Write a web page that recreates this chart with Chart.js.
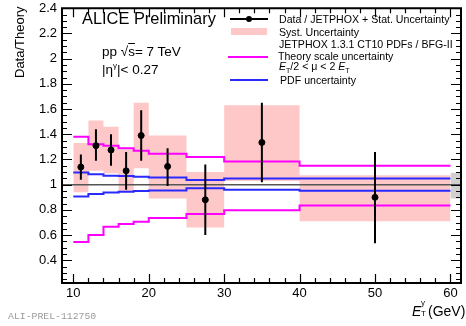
<!DOCTYPE html>
<html lang="en">
<head>
<meta charset="UTF-8">
<title>ALICE Preliminary - Data/Theory</title>
<script src="https://cdn.jsdelivr.net/npm/chart.js"></script>
<style>
  body { margin: 0; background: #fff; }
  #wrap { position: relative; width: 466px; height: 326px; font-family: "Liberation Sans", Arial, sans-serif; color: #000; }
  #wrap canvas { position: absolute; left: 0; top: 0; }
  .txt { position: absolute; white-space: nowrap; line-height: 1; }
  .leg { font-size: 10.6px; }
  .sym { position: absolute; }
  .idx { position: absolute; font-size: 8px; line-height: 1; }
</style>
</head>
<body>
<div id="wrap">
  <canvas id="chart" width="466" height="326"></canvas>

  <!-- annotations -->
  <div class="txt" style="left:82px; top:10px; font-size:16.4px;">ALICE Preliminary</div>
  <div class="txt" style="left:102px; top:45px; font-size:13.5px;">pp &radic;<span style="text-decoration:overline">s</span>= 7 TeV</div>
  <div class="txt" style="left:102px; top:62px; font-size:13.5px;">|&eta;<sup style="font-size:8px; vertical-align:6px;">&gamma;</sup>|&lt; 0.27</div>

  <!-- axis titles -->
  <div class="txt" style="left:19px; top:5px; font-size:13px; transform-origin:0 0; transform:translate(-6px, 73px) rotate(-90deg);">Data/Theory</div>
  <div class="txt" style="left:412px; top:304px; font-size:14px;"><i>E</i></div>
  <div class="idx" style="left:421px; top:299px;">&gamma;</div>
  <div class="idx" style="left:421px; top:310px;">T</div>
  <div class="txt" style="left:428px; top:304px; font-size:14px;">(GeV)</div>
  <div class="txt" style="left:8px; top:312px; font-size:9.8px; font-family:'Liberation Mono', monospace; color:#9a9a9a;">ALI-PREL-112750</div>

  <!-- legend -->
  <div class="sym" style="left:230px; top:18px; width:38px; height:2px; background:#000;"></div>
  <div class="sym" style="left:246px; top:16px; width:6px; height:6px; border-radius:3px; background:#000;"></div>
  <div class="txt leg" style="left:279px; top:14px;">Data / JETPHOX + Stat. Uncertainty</div>

  <div class="sym" style="left:231px; top:28px; width:36px; height:7px; background:#ffc8c8;"></div>
  <div class="txt leg" style="left:279px; top:27px;">Syst. Uncertainty</div>

  <div class="txt leg" style="left:279px; top:39px;">JETPHOX 1.3.1 CT10 PDFs / BFG-II</div>

  <div class="sym" style="left:228px; top:56px; width:40px; height:2px; background:#ff00ff;"></div>
  <div class="txt leg" style="left:278px; top:51px;">Theory scale uncertainty</div>
  <div class="txt leg" style="left:279px; top:61px;"><i>E</i><sub style="font-size:7px;">T</sub>/2 &lt; &mu; &lt; 2 <i>E</i><sub style="font-size:7px;">T</sub></div>

  <div class="sym" style="left:230px; top:79px; width:38px; height:2px; background:#2a2aff;"></div>
  <div class="txt leg" style="left:280px; top:75px;">PDF uncertainty</div>
</div>

<script>
  // E_T bins (GeV) and bin centres
  const binEdges = [10, 12, 14, 16, 18, 20, 25, 30, 40, 60];
  const binCenters = [11, 13, 15, 17, 19, 22.5, 27.5, 35, 50];

  // data / JETPHOX with stat. and syst. bands
  const ratio  = [1.14, 1.31, 1.275, 1.11, 1.39, 1.145, 0.88, 1.335, 0.90];
  const statHi = [1.24, 1.44, 1.40, 1.26, 1.59, 1.29, 1.16, 1.65, 1.26];
  const statLo = [1.04, 1.19, 1.15, 0.96, 1.19, 0.99, 0.60, 1.02, 0.535];
  const systHi = [1.33, 1.51, 1.46, 1.28, 1.65, 1.39, 1.10, 1.63, 1.075];
  const systLo = [0.94, 1.11, 1.09, 0.945, 1.13, 0.89, 0.66, 1.03, 0.71];

  // theory uncertainties (per bin)
  const scaleUp   = [1.38, 1.32, 1.31, 1.29, 1.27, 1.245, 1.22, 1.185, 1.15];
  const scaleDown = [0.545, 0.60, 0.667, 0.688, 0.705, 0.735, 0.768, 0.798, 0.835];
  const pdfUp     = [1.096, 1.082, 1.07, 1.068, 1.063, 1.058, 1.037, 1.05, 1.05];
  const pdfDown   = [0.907, 0.927, 0.938, 0.945, 0.95, 0.953, 0.971, 0.96, 0.951];

  // normalisation box at the right edge
  const normRange = [60, 61.4];
  const normHi = 1.095;
  const normLo = 0.89;

  const xMin = 8.5, xMax = 61.4;
  const xTicks = [10, 20, 30, 40, 50, 60];
  const yTicks = [0.4, 0.6, 0.8, 1, 1.2, 1.4, 1.6, 1.8, 2, 2.2, 2.4];
  const yTickLabels = ['0.4', '0.6', '0.8', '1', '1.2', '1.4', '1.6', '1.8', '2', '2.2', '2.4'];

  // step-line points: value i holds from edge i to edge i+1
  function steps(vals) {
    return binEdges.map((x, i) => ({ x: x, y: vals[Math.min(i, vals.length - 1)] }));
  }

  const errBars = [];
  binCenters.forEach((x, i) => {
    errBars.push({ x: x, y: statLo[i] }, { x: x, y: statHi[i] }, { x: x, y: null });
  });

  const stepLine = (data, color, order) => ({
    data: data, borderColor: color, borderWidth: 2, pointRadius: 0,
    stepped: true, fill: false, order: order
  });

  // ROOT style frame with inward ticks on all sides
  const rootFrame = {
    id: 'rootFrame',
    afterDatasetsDraw(chart) {
      const { ctx, chartArea: a, scales: { x, y } } = chart;
      ctx.save();
      ctx.strokeStyle = '#000';
      ctx.lineWidth = 1.2;
      ctx.beginPath();
      for (let v = 10; v <= 60; v += 2) {
        const px = Math.round(x.getPixelForValue(v)) + 0.5;
        const len = v % 10 === 0 ? 9 : 5;
        ctx.moveTo(px, a.bottom); ctx.lineTo(px, a.bottom - len);
        ctx.moveTo(px, a.top); ctx.lineTo(px, a.top + len);
      }
      for (let k = 5; k <= 48; k++) {
        const py = Math.round(y.getPixelForValue(k * 0.05)) + 0.5;
        const len = k % 4 === 0 ? 10 : 5;
        ctx.moveTo(a.left, py); ctx.lineTo(a.left + len, py);
        ctx.moveTo(a.right, py); ctx.lineTo(a.right - len, py);
      }
      ctx.stroke();
      ctx.lineWidth = 2;
      ctx.strokeRect(a.left, a.top, a.right - a.left, a.bottom - a.top);
      ctx.restore();
    }
  };

  new Chart(document.getElementById('chart'), {
    type: 'line',
    data: {
      datasets: [
        { data: binCenters.map((x, i) => ({ x: x, y: ratio[i] })), showLine: false,
          pointRadius: 3, pointBackgroundColor: '#000', pointBorderColor: '#000', order: 0 },
        { data: errBars, borderColor: '#000', borderWidth: 2, pointRadius: 0, spanGaps: false, order: 1 },
        stepLine(steps(scaleUp), '#ff00ff', 2),
        stepLine(steps(scaleDown), '#ff00ff', 2),
        stepLine(steps(pdfUp), '#2a2aff', 3),
        stepLine(steps(pdfDown), '#2a2aff', 3),
        { data: [{ x: xMin, y: 1 }, { x: xMax, y: 1 }], borderColor: '#555', borderWidth: 1.6,
          pointRadius: 0, order: 4 },
        { data: steps(systHi), borderWidth: 0, borderColor: 'rgba(0,0,0,0)', pointRadius: 0,
          stepped: true, fill: '+1', backgroundColor: '#ffc8c8', order: 5 },
        { data: steps(systLo), borderWidth: 0, borderColor: 'rgba(0,0,0,0)', pointRadius: 0,
          stepped: true, fill: false, order: 5 },
        { data: normRange.map(x => ({ x: x, y: normHi })), borderWidth: 0, borderColor: 'rgba(0,0,0,0)',
          pointRadius: 0, fill: '+1', backgroundColor: 'rgba(170,170,170,0.55)', order: 6 },
        { data: normRange.map(x => ({ x: x, y: normLo })), borderWidth: 0, borderColor: 'rgba(0,0,0,0)',
          pointRadius: 0, fill: false, order: 6 }
      ]
    },
    options: {
      responsive: false,
      animation: false,
      layout: { padding: { top: 4, right: 3, left: 0, bottom: 0 } },
      plugins: { legend: { display: false }, tooltip: { enabled: false } },
      scales: {
        x: {
          type: 'linear', min: xMin, max: xMax,
          afterBuildTicks: s => { s.ticks = xTicks.map(v => ({ value: v })); },
          afterFit: s => { s.height = 43; },
          grid: { display: false, drawTicks: false },
          border: { display: false },
          ticks: { padding: 4, color: '#000', font: { family: 'Liberation Sans', size: 13, lineHeight: 1 },
                   maxRotation: 0, autoSkip: false }
        },
        y: {
          type: 'linear', min: 0.22, max: 2.4,
          afterBuildTicks: s => { s.ticks = yTicks.map(v => ({ value: v })); },
          afterFit: s => { s.width = 62; },
          grid: { display: false, drawTicks: false },
          border: { display: false },
          ticks: { padding: 5, color: '#000', autoSkip: false,
                   font: { family: 'Liberation Sans', size: 13, lineHeight: 0.5 },
                   callback: (v, i) => yTickLabels[i] }
        }
      }
    },
    plugins: [rootFrame]
  });
</script>
</body>
</html>
